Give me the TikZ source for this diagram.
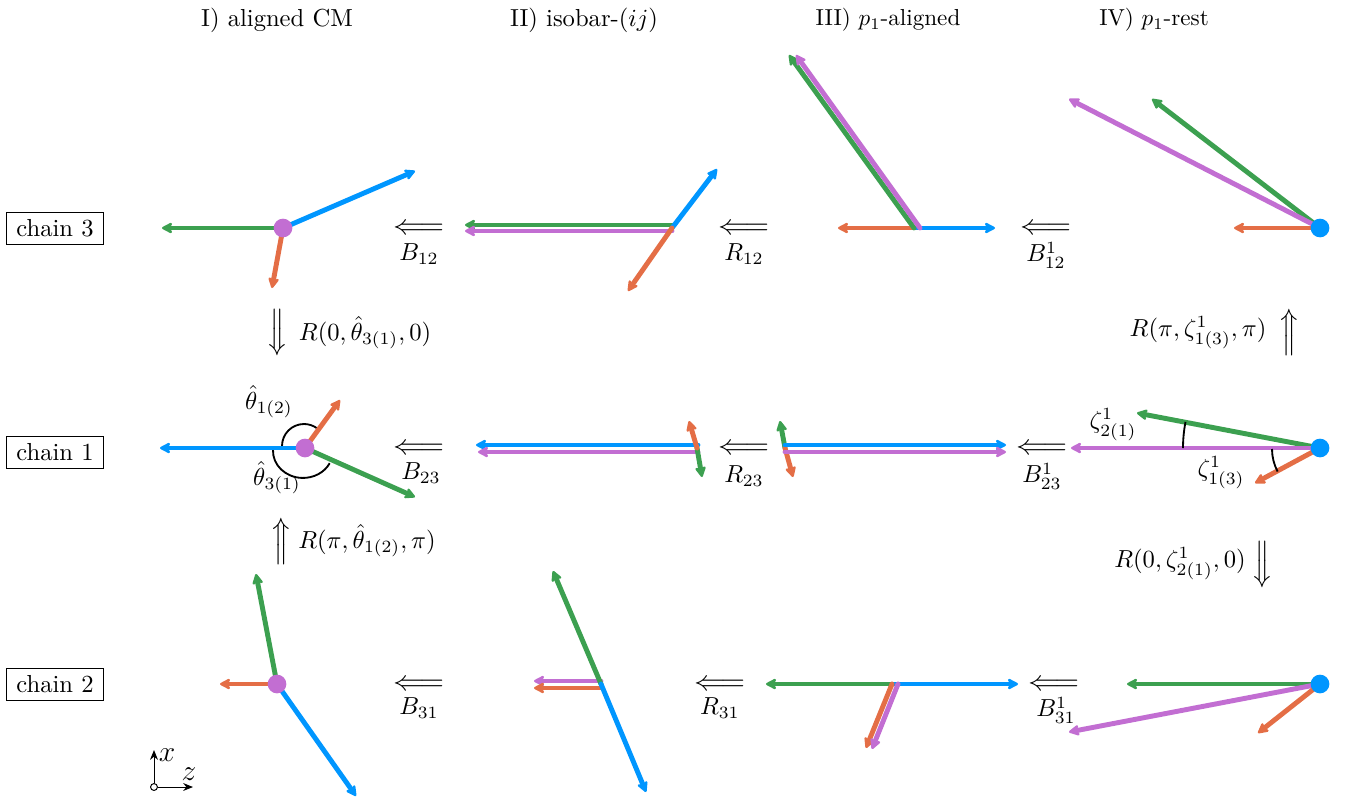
\documentclass[tikz,border=0pt]{standalone}
\usepackage{amsmath}
\usetikzlibrary{arrows.meta}
\definecolor{cblue}{RGB}{0,150,255}
\definecolor{cgreen}{RGB}{60,160,80}
\definecolor{corange}{RGB}{228,110,70}
\definecolor{cpurple}{RGB}{194,110,210}
\newcommand{\vv}[4]{\coordinate (#1s) at (#3); \coordinate (#1e) at (#4); \draw[vecline,#2] (#1s) -- (#1e);}
\newcommand{\leftdbl}{\scalebox{1.27}[1.15]{$\Longleftarrow$}}
\tikzset{
  vecline/.style={line width=2pt,line cap=round,-{Stealth[length=5.2pt,width=5.4pt,round,inset=1.4pt]}},
  pdot/.style={circle,fill=#1,inner sep=0pt,minimum size=7.6pt},
  chainbox/.style={draw,line width=0.4pt,minimum width=39.8pt,minimum height=13pt,inner sep=0pt},
  anglearc/.style={line width=0.75pt,black},
  lbl/.style={inner sep=0pt},
  axisline/.style={line width=0.4pt,-{Stealth[length=4pt,width=3.2pt]}}
}
\begin{document}
\begin{tikzpicture}[x=0.4065pt,y=-0.4065pt]
\useasboundingbox (0,0) rectangle (1351,802);
% headers
\node[lbl] (h1) at (277,20) {I) aligned CM};
\node[lbl] (h2) at (584,20) {II) isobar-$(ij)$};
\node[lbl] (h3) at (888,20) {\scalebox{0.94}{III) $p_1$-aligned}};
\node[lbl] (h4) at (1154,20) {\scalebox{0.94}{IV) $p_1$-rest}};
% chain boxes
\node[chainbox] (c3) at (55,228) {chain 3};
\node[chainbox] (c1) at (55,452) {chain 1};
\node[chainbox] (c2) at (55,684) {chain 2};
% row 1
\vv{a1}{cgreen}{283,228}{162,228}
\vv{a2}{cblue}{283,228}{415,171}
\vv{a3}{corange}{283,228}{272,288}
\node[pdot=cpurple] (d1) at (283,228) {};
\vv{b1}{cgreen}{672,225}{465,225}
\vv{b2}{cpurple}{672,231}{465,231}
\vv{b3}{cblue}{672,228}{717,169}
\vv{b4}{corange}{672,228}{628,291}
\vv{e1}{corange}{916,228}{838,228}
\vv{e2}{cblue}{916,228}{995,228}
\vv{e3}{cgreen}{914,228}{789,55}
\vv{e4}{cpurple}{920,228}{796,55}
\vv{f1}{corange}{1320,228}{1234,228}
\vv{f2}{cgreen}{1320,228}{1152,99}
\vv{f3}{cpurple}{1320,228}{1069,99}
\node[pdot=cblue] (d2) at (1320,228) {};
% row 2
\draw[anglearc] (282,446) arc[start angle=180,end angle=306,radius=22] coordinate (arc1);
\draw[anglearc] (273,450) arc[start angle=178,end angle=333,x radius=30,y radius=-27] coordinate (arc2);
\vv{g1}{cblue}{305,448}{160,448}
\vv{g2}{corange}{305,448}{340,400}
\vv{g3}{cgreen}{305,448}{415,497}
\node[pdot=cpurple] (d3) at (305,448) {};
\vv{k1}{cblue}{698,445}{476,445}
\vv{k2}{cpurple}{698,452}{478,452}
\vv{k3}{cgreen}{697,448}{702,477}
\vv{k4}{corange}{697,448}{689,421}
\vv{m1}{cgreen}{785,448}{780,421}
\vv{m2}{corange}{785,448}{793,477}
\vv{m3}{cblue}{785,445}{1006,445}
\vv{m4}{cpurple}{785,452}{1006,452}
\vv{n1}{cgreen}{1320,448}{1137,413}
\vv{n2}{cpurple}{1320,448}{1071,448}
\vv{n3}{corange}{1320,448}{1255,483}
\draw[anglearc] (1183,448) arc[start angle=180,end angle=191,radius=137] coordinate (arc3);
\draw[anglearc] (1272,449) arc[start angle=180,end angle=208,x radius=48,y radius=-48] coordinate (arc4);
\node[pdot=cblue] (d4) at (1320,448) {};
% row 3
\vv{p1}{corange}{277,684}{220,684}
\vv{p2}{cgreen}{277,684}{256,574}
\vv{p3}{cblue}{277,684}{356,796}
\node[pdot=cpurple] (d5) at (277,684) {};
\vv{q1}{cpurple}{601,681}{534,681}
\vv{q2}{corange}{601,688}{534,688}
\vv{q3}{cgreen}{601,684}{553,571}
\vv{q4}{cblue}{601,684}{646,792}
\vv{r1}{cgreen}{895,684}{766,684}
\vv{r2}{cblue}{895,684}{1018,684}
\vv{r3}{corange}{892,684}{866,748}
\vv{r4}{cpurple}{898,684}{872,749}
\vv{s1}{cgreen}{1320,684}{1127,684}
\vv{s2}{cpurple}{1320,684}{1069,732}
\vv{s3}{corange}{1320,684}{1258,733}
\node[pdot=cblue] (d6) at (1320,684) {};
% horizontal transformation arrows and labels
\node[lbl] (t1) at (419,229) {\leftdbl};
\node[lbl] (t2) at (744,229) {\leftdbl};
\node[lbl] (t3) at (1046,229) {\leftdbl};
\node[lbl] (t4) at (419,449) {\leftdbl};
\node[lbl] (t5) at (744,449) {\leftdbl};
\node[lbl] (t6) at (1042,449) {\leftdbl};
\node[lbl] (t7) at (419,685) {\leftdbl};
\node[lbl] (t8) at (720,685) {\leftdbl};
\node[lbl] (t9) at (1054,685) {\leftdbl};
\node[lbl] (l1) at (419,254) {$B_{12}$};
\node[lbl] (l2) at (744,254) {$R_{12}$};
\node[lbl] (l3) at (1046,255) {$B^1_{12}$};
\node[lbl] (l4) at (421,473) {$B_{23}$};
\node[lbl] (l5) at (744,476) {$R_{23}$};
\node[lbl] (l6) at (1042,476) {$B^1_{23}$};
\node[lbl] (l7) at (419,708) {$B_{31}$};
\node[lbl] (l8) at (720,708) {$R_{31}$};
\node[lbl] (l9) at (1056,710) {$B^1_{31}$};
% vertical transformation arrows and labels
\node[lbl,rotate=90] (u1) at (279,332) {\leftdbl};
\node[lbl,rotate=-90] (u2) at (279,542) {\leftdbl};
\node[lbl,rotate=-90] (u3) at (1287,333) {\leftdbl};
\node[lbl,rotate=90] (u4) at (1264,564) {\leftdbl};
\node[lbl] (v1) at (365,333) {$R(0,\hat\theta_{3(1)},0)$};
\node[lbl] (v2) at (367,541) {$R(\pi,\hat\theta_{1(2)},\pi)$};
\node[lbl] (v3) at (1198,333) {$R(\pi,\zeta^1_{1(3)},\pi)$};
\node[lbl] (v4) at (1180,564) {$R(0,\zeta^1_{2(1)},0)$};
% angle labels
\node[lbl] (w1) at (269,402) {$\hat\theta_{1(2)}$};
\node[lbl] (w2) at (277,478) {$\hat\theta_{3(1)}$};
\node[lbl] (w3) at (1113,425) {$\zeta^1_{2(1)}$};
\node[lbl] (w4) at (1221,473) {$\zeta^1_{1(3)}$};
% axes
\node[circle,draw,line width=0.4pt,fill=white,inner sep=0pt,minimum size=2.8pt] (o) at (154,787) {};
\coordinate (xe) at (154,750);
\coordinate (ze) at (193,787);
\draw[axisline] (o) -- (xe);
\draw[axisline] (o) -- (ze);
\node[lbl] (xl) at (167,755) {\large $x$};
\node[lbl] (zl) at (189,774) {\large $z$};
\end{tikzpicture}
\end{document}
